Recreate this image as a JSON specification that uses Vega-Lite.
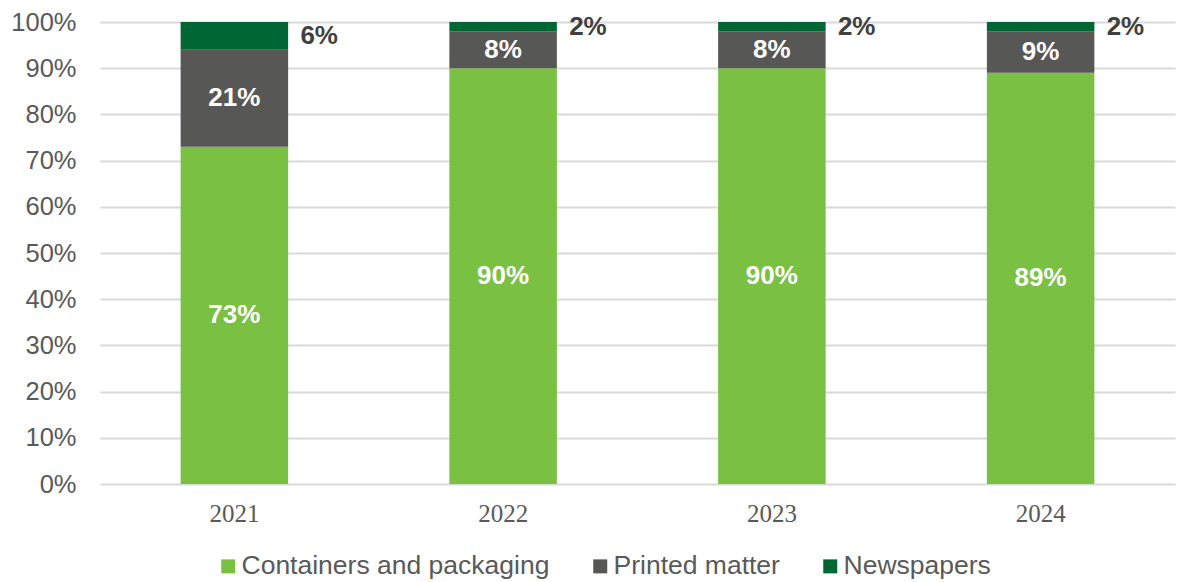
{
  "$schema": "https://vega.github.io/schema/vega-lite/v6.json",
  "width": 1177,
  "height": 582,
  "autosize": {"type": "fit", "contains": "padding"},
  "padding": {"left": 10, "top": 10, "right": 2, "bottom": 56},
  "background": "white",
  "config": {
    "view": {"stroke": null},
    "font": "Liberation Sans"
  },
  "data": {
    "values": [
      {"year": "2021", "category": "Containers and packaging", "value": 73, "order": 1},
      {"year": "2021", "category": "Printed matter", "value": 21, "order": 2},
      {"year": "2021", "category": "Newspapers", "value": 6, "order": 3},
      {"year": "2022", "category": "Containers and packaging", "value": 90, "order": 1},
      {"year": "2022", "category": "Printed matter", "value": 8, "order": 2},
      {"year": "2022", "category": "Newspapers", "value": 2, "order": 3},
      {"year": "2023", "category": "Containers and packaging", "value": 90, "order": 1},
      {"year": "2023", "category": "Printed matter", "value": 8, "order": 2},
      {"year": "2023", "category": "Newspapers", "value": 2, "order": 3},
      {"year": "2024", "category": "Containers and packaging", "value": 89, "order": 1},
      {"year": "2024", "category": "Printed matter", "value": 9, "order": 2},
      {"year": "2024", "category": "Newspapers", "value": 2, "order": 3}
    ]
  },
  "transform": [
    {"stack": "value", "groupby": ["year"], "sort": [{"field": "order", "order": "ascending"}], "as": ["y0", "y1"]},
    {"calculate": "(datum.y0 + datum.y1) / 2", "as": "ymid"},
    {"calculate": "datum.value + '%'", "as": "label"}
  ],
  "encoding": {
    "x": {
      "field": "year",
      "type": "nominal",
      "scale": {"paddingInner": 0.6, "paddingOuter": 0.3},
      "axis": {
        "title": null,
        "labelAngle": 0,
        "labelFont": "Liberation Serif",
        "labelFontSize": 25,
        "labelColor": "#595959",
        "labelPadding": 17,
        "ticks": false,
        "domain": false
      }
    }
  },
  "layer": [
    {
      "mark": {"type": "bar"},
      "encoding": {
        "y": {
          "field": "y0",
          "type": "quantitative",
          "scale": {"domain": [0, 100]},
          "axis": {
            "title": null,
            "values": [0, 10, 20, 30, 40, 50, 60, 70, 80, 90, 100],
            "labelExpr": "datum.value + '%'",
            "labelFontSize": 25.5,
            "labelColor": "#595959",
            "labelPadding": 24,
            "ticks": false,
            "domain": false,
            "gridColor": "#d9d9d9",
            "gridWidth": 2
          }
        },
        "y2": {"field": "y1"},
        "color": {
          "field": "category",
          "type": "nominal",
          "scale": {
            "domain": ["Containers and packaging", "Printed matter", "Newspapers"],
            "range": ["#7ac143", "#575756", "#006633"]
          },
          "legend": {
            "title": null,
            "orient": "none",
            "legendX": 115,
            "legendY": 531,
            "direction": "horizontal",
            "symbolType": "square",
            "symbolSize": 196,
            "symbolStrokeWidth": 0,
            "labelFontSize": 26.5,
            "labelColor": "#595959",
            "labelLimit": 400,
            "labelOffset": 0,
            "columnPadding": 37
          }
        },
        "order": {"field": "order"}
      }
    },
    {
      "transform": [{"filter": "datum.category !== 'Newspapers'"}],
      "mark": {"type": "text", "fontSize": 26, "fontWeight": "bold", "color": "white", "baseline": "middle", "align": "center"},
      "encoding": {
        "y": {"field": "ymid", "type": "quantitative"},
        "text": {"field": "label"}
      }
    },
    {
      "transform": [{"filter": "datum.category === 'Newspapers'"}],
      "mark": {"type": "text", "fontSize": 26, "fontWeight": "bold", "color": "#404040", "baseline": "middle", "align": "left", "dx": 66},
      "encoding": {
        "y": {"field": "ymid", "type": "quantitative"},
        "text": {"field": "label"}
      }
    }
  ]
}
